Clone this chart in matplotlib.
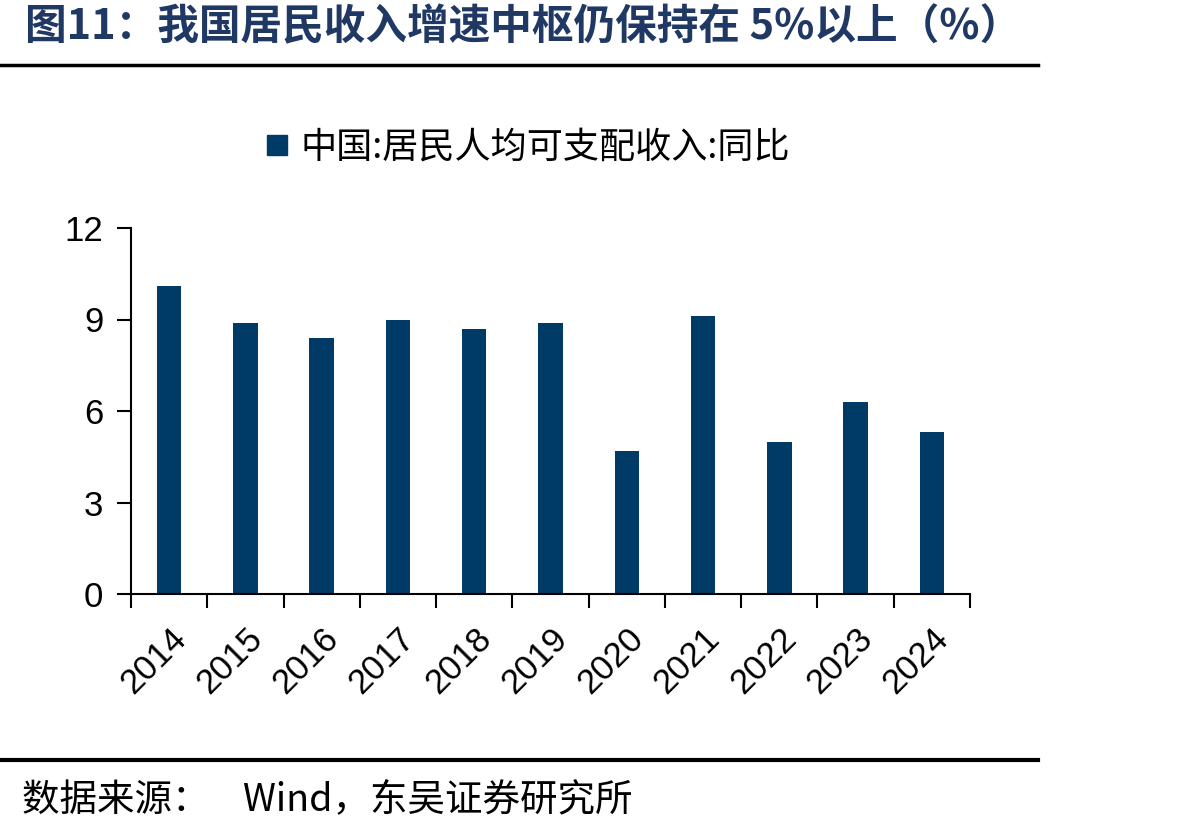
import matplotlib
matplotlib.use('Agg')
import matplotlib.pyplot as plt
import numpy as np
from matplotlib.lines import Line2D

plt.rcParams['font.family'] = ['Noto Sans CJK SC', 'DejaVu Sans']

# Data
years = ['2014', '2015', '2016', '2017', '2018', '2019', '2020', '2021', '2022', '2023', '2024']
income_growth = [10.1, 8.9, 8.4, 9.0, 8.7, 8.9, 4.7, 9.1, 5.0, 6.3, 5.3]
y_ticks = [0, 3, 6, 9, 12]

series_name = '中国:居民人均可支配收入:同比'
title = '图11：我国居民收入增速中枢仍保持在 5%以上（%）'
source = '数据来源：    Wind，东吴证券研究所'

bar_color = '#003A66'
title_color = '#1F3864'

fig = plt.figure(figsize=(11.92, 8.33), dpi=100)
ax = fig.add_axes([131 / 1192, 1 - 594 / 833, (970 - 131) / 1192, (594 - 228) / 833])

x = np.arange(len(years))
ax.bar(x, income_growth, width=0.32, color=bar_color, zorder=2)

ax.set_xlim(-0.5, len(years) - 0.5)
ax.set_ylim(0, 12)
ax.set_yticks(y_ticks)
ax.set_yticklabels([str(v) for v in y_ticks], family=['Liberation Sans', 'DejaVu Sans'])

# category labels at centres, tick marks at boundaries
ax.set_xticks(x)
ax.set_xticklabels(years, rotation=45, ha='right', rotation_mode='anchor',
                   family=['Liberation Sans', 'DejaVu Sans'])
ax.set_xticks(np.arange(len(years) + 1) - 0.5, minor=True)
ax.tick_params(axis='x', which='major', length=0, labelsize=25, pad=20)
ax.tick_params(axis='x', which='minor', length=10, width=1.5, direction='out')
ax.tick_params(axis='y', length=10, width=1.5, direction='out', labelsize=25, pad=10)

for side in ['top', 'right']:
    ax.spines[side].set_visible(False)
for side in ['left', 'bottom']:
    ax.spines[side].set_linewidth(1.5)

# legend
handle = Line2D([], [], marker='s', linestyle='none', markersize=15, color=bar_color)
fig.legend([handle], [series_name], loc='center', bbox_to_anchor=(526 / 1192, 1 - 148 / 833),
           frameon=False, fontsize=26, handletextpad=0.25, handlelength=0.8)

# title and rules
fig.text(25 / 1192, 1 - 27 / 833, title, fontsize=30, fontweight='bold', color=title_color,
         va='center', ha='left')
fig.add_artist(Line2D([0, 1038 / 1192], [1 - 65 / 833] * 2, color='black', linewidth=2.5))
fig.add_artist(Line2D([0, 1038 / 1192], [1 - 760 / 833] * 2, color='black', linewidth=3))
fig.text(22 / 1192, 1 - 800 / 833, source, fontsize=27, va='center', ha='left')

fig.savefig('out.png', dpi=100)
plt.close(fig)
